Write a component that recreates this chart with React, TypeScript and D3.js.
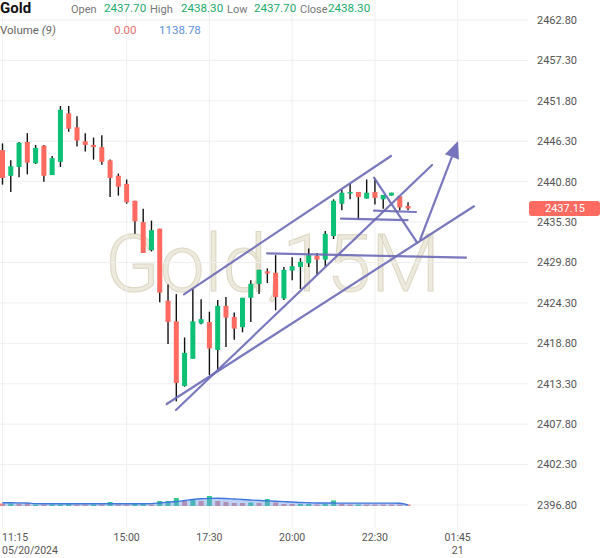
import React from "react";
import * as d3 from "d3";

const opens = [2445.1,2441.6,2442.8,2446.2,2443.3,2445.7,2441.7,2443.5,2450.1,2448.2,2446.3,2445.8,2445.5,2443.7,2441.6,2440.5,2438.2,2435.3,2431.5,2434.4,2424.6,2421.8,2413.0,2416.7,2421.5,2421.7,2417.9,2423.9,2422.4,2421.0,2425.0,2426.9,2428.6,2428.4,2424.9,2428.7,2429.2,2429.7,2430.7,2430.2,2433.4,2437.8,2439.2,2439.4,2438.5,2439.4,2438.4,2438.9,2438.8,2437.5];
const highs = [2446.0,2443.7,2446.2,2447.4,2445.8,2445.8,2444.3,2451.1,2451.1,2449.7,2447.4,2446.8,2447.1,2443.8,2441.9,2441.1,2438.2,2437.1,2435.5,2434.4,2426.8,2425.5,2419.6,2426.2,2424.8,2423.1,2424.7,2425.1,2423.0,2425.0,2427.4,2428.8,2429.0,2430.8,2429.2,2430.5,2430.4,2431.7,2431.1,2434.1,2438.4,2439.7,2440.5,2439.4,2441.1,2441.2,2439.0,2439.3,2438.8,2438.0];
const lows = [2440.4,2439.4,2441.4,2441.8,2443.2,2440.8,2441.7,2442.8,2447.6,2445.6,2444.9,2443.8,2443.1,2438.7,2438.9,2437.8,2433.7,2431.1,2431.3,2424.4,2418.7,2410.9,2412.9,2416.7,2421.4,2414.5,2415.3,2418.3,2419.3,2420.3,2421.7,2425.5,2427.0,2423.3,2424.7,2427.4,2426.2,2429.2,2428.1,2429.3,2433.0,2436.9,2438.4,2435.6,2438.5,2437.7,2437.1,2438.9,2436.9,2436.9];
const closes = [2441.3,2442.9,2446.1,2443.4,2445.4,2441.6,2444.0,2450.6,2448.0,2446.4,2445.8,2445.5,2443.5,2441.3,2440.1,2438.0,2435.4,2431.1,2434.2,2425.7,2421.7,2413.4,2417.5,2421.8,2422.1,2418.1,2423.9,2422.3,2420.8,2425.0,2426.9,2428.8,2428.3,2425.1,2428.8,2429.3,2429.9,2430.8,2430.2,2433.7,2438.2,2439.3,2439.4,2438.7,2439.3,2438.6,2439.0,2439.3,2437.3,2437.15];

const volumes = [1000,1000,1000,1000,600,600,600,600,1000,600,600,600,600,1600,600,600,1000,1000,600,2000,2000,3200,2000,2400,2000,4000,2000,1600,1200,1200,1400,1200,2800,1400,800,800,800,800,600,800,2200,800,600,600,600,600,600,600,600,600];
const volumeUp = [0,1,0,0,1,0,1,1,1,0,0,1,0,1,0,0,1,1,0,1,1,1,0,1,0,1,0,0,0,0,1,0,1,0,0,0,1,1,0,1,1,0,0,1,0,0,0,0,0,0];
const volumeMA = [1300,1300,1250,1200,950,900,900,900,900,900,900,900,900,900,900,900,900,900,950,1200,1500,1800,2200,2600,2900,3050,3100,3000,2800,2600,2400,2200,2050,1900,1750,1600,1400,1300,1200,1200,1200,1150,1150,1150,1150,1150,1150,1150,1100,400];

const priceTicks = ["2462.80","2457.30","2451.80","2446.30","2440.80","2435.30","2429.80","2424.30","2418.80","2413.30","2407.80","2402.30","2396.80"];
const timeTickIndex = [0,15,25,35,45,55];
const timeTickLabels = ["11:15","15:00","17:30","20:00","22:30","01:45"];
const timeTickSub = ["05/20/2024","","","","","21"];

// drawings: [startIndex, startPrice, endIndex, endPrice]
const trendLines = [
  [21.93,2425.47,46.94,2444.29],
  [20.96,2409.73,51.90,2443.07],
  [19.84,2410.54,56.97,2437.45],
  [31.96,2431.05,56.0,2430.45],
  [44.89,2441.34,50.08,2432.55],
  [40.90,2435.76,48.94,2435.58],
  [44.89,2436.85,49.96,2436.67],
];
const arrowLine = [50.45,2432.86,55.04,2446.33];

const headerLabels = ["Open","High","Low","Close"];
const headerValues = ["2437.70","2438.30","2437.70","2438.30"];
const headerLabelX = [71,150,227,300];
const headerValueX = [104,181,254,328];

const lastPrice = 2437.15;

const GREEN = "#0cc076";
const RED = "#ff6a61";
const FONT = "Roboto, 'Noto Sans', sans-serif";

export default function App() {
  const W = 600, H = 558;
  const plotRight = 528;
  const x = d3.scaleLinear().domain([0, 55]).range([2.5, 457.7]);
  const y = d3.scaleLinear().domain([2396.8, 2462.8]).range([505, 20]);
  const vy = d3.scaleLinear().domain([0, 6000]).range([506, 491]);
  const bodyW = 5;

  const maArea = d3.area<number>()
    .x((_, i) => x(i))
    .y0(vy(0))
    .y1((d) => vy(d))
    .curve(d3.curveMonotoneX);
  const maLine = d3.line<number>()
    .x((_, i) => x(i))
    .y((d) => vy(d))
    .curve(d3.curveMonotoneX);

  const lineColor = "#6d6bb8";

  const ax1 = x(arrowLine[0]), ay1 = y(arrowLine[1]);
  const ax2 = x(arrowLine[2]), ay2 = y(arrowLine[3]);
  const ang = Math.atan2(ay2 - ay1, ax2 - ax1);
  const headLen = 17, headHalf = 7.5;
  const bx = ax2 - headLen * Math.cos(ang), by = ay2 - headLen * Math.sin(ang);
  const head = [
    [ax2, ay2],
    [bx + headHalf * Math.sin(ang), by - headHalf * Math.cos(ang)],
    [bx - headHalf * Math.sin(ang), by + headHalf * Math.cos(ang)],
  ];

  return (
    <div style={{ position: "fixed", left: 0, top: 0, width: W, height: H, background: "#fff" }}>
      <svg width={W} height={H} style={{ display: "block", fontFamily: FONT }}>
        <defs>
          <clipPath id="plot">
            <rect x={0} y={0} width={plotRight} height={530} />
          </clipPath>
        </defs>
        <rect x={0} y={0} width={W} height={H} fill="#fff" />

        {/* watermark */}
        <text x={105} y={291} fontSize={80} fontWeight={300} fill="#ede9dc" stroke="#dcd7c2" strokeWidth={1} fontFamily={FONT}>
          Gold,15M
        </text>

        {/* grid */}
        {priceTicks.map((t) => (
          <line key={"h" + t} x1={0} x2={plotRight} y1={y(+t)} y2={y(+t)} stroke="#efefef" strokeWidth={1} />
        ))}
        {timeTickIndex.map((ti) => (
          <line key={"v" + ti} x1={x(ti)} x2={x(ti)} y1={0} y2={528} stroke="#efefef" strokeWidth={1} />
        ))}

        <g clipPath="url(#plot)">
          {/* volume */}
          {volumes.map((v, i) => (
            <rect key={"vb" + i} x={x(i) - 2.5} y={vy(v)} width={5} height={vy(0) - vy(v)}
              fill={volumeUp[i] ? "#1cc47f" : "#e57c7c"} opacity={0.9} />
          ))}
          <path d={maArea(volumeMA) || ""} fill="#6f9be6" opacity={0.45} />
          <path d={maLine(volumeMA) || ""} fill="none" stroke="#3f78dc" strokeWidth={1.3} />

          {/* candles */}
          {opens.map((o, i) => {
            const c = closes[i];
            const up = c >= o;
            const top = y(Math.max(o, c));
            const bot = y(Math.min(o, c));
            return (
              <g key={"c" + i}>
                <line x1={x(i)} x2={x(i)} y1={y(highs[i])} y2={y(lows[i])} stroke="#111" strokeWidth={1.4} />
                <rect x={x(i) - bodyW / 2} y={top} width={bodyW} height={Math.max(1.5, bot - top)} fill={up ? GREEN : RED} />
              </g>
            );
          })}

          {/* drawings */}
          {trendLines.map((l, i) => (
            <line key={"t" + i} x1={x(l[0])} y1={y(l[1])} x2={x(l[2])} y2={y(l[3])}
              stroke={lineColor} strokeWidth={2.2} opacity={0.9} strokeLinecap="round" />
          ))}
          <line x1={ax1} y1={ay1} x2={bx} y2={by} stroke={lineColor} strokeWidth={2.2} opacity={0.9} />
          <polygon points={head.map((p) => p.join(",")).join(" ")} fill={lineColor} opacity={0.95} />
        </g>

        {/* right axis */}
        {priceTicks.map((t) => (
          <text key={"pt" + t} x={537} y={y(+t)} dy="0.35em" fontSize={11} fill="#555">{t}</text>
        ))}
        <rect x={529} y={y(lastPrice) - 7.5} width={71} height={15} rx={3} fill={RED} />
        <text x={565} y={y(lastPrice)} dy="0.35em" textAnchor="middle" fontSize={11} fill="#fff">{lastPrice.toFixed(2)}</text>

        {/* bottom axis */}
        {timeTickIndex.map((ti, k) => (
          <g key={"tt" + ti}>
            <text x={k === 0 ? 2 : x(ti)} y={541} textAnchor={k === 0 ? "start" : "middle"} fontSize={10.5} fill="#555">{timeTickLabels[k]}</text>
            {timeTickSub[k] && (
              <text x={k === 0 ? 2 : x(ti)} y={553.5} textAnchor={k === 0 ? "start" : "middle"} fontSize={10.5} fill="#555">{timeTickSub[k]}</text>
            )}
          </g>
        ))}

        {/* header */}
        <text x={0} y={13} fontSize={15} fontWeight={700} fill="#111">Gold</text>
        {headerLabels.map((l, k) => (
          <g key={"hd" + l}>
            <text x={headerLabelX[k]} y={13} fontSize={11} fill="#777">{l}</text>
            <text x={headerValueX[k]} y={12} fontSize={11.6} fill="#22aa6c">{headerValues[k]}</text>
          </g>
        ))}
        <text x={0} y={34} fontSize={11.5} fill="#666">Volume <tspan fontStyle="italic">(9)</tspan></text>
        <text x={114} y={34} fontSize={11.5} fill="#ea6d6d">0.00</text>
        <text x={159} y={34} fontSize={11.5} fill="#5d8fe0">1138.78</text>
      </svg>
    </div>
  );
}
